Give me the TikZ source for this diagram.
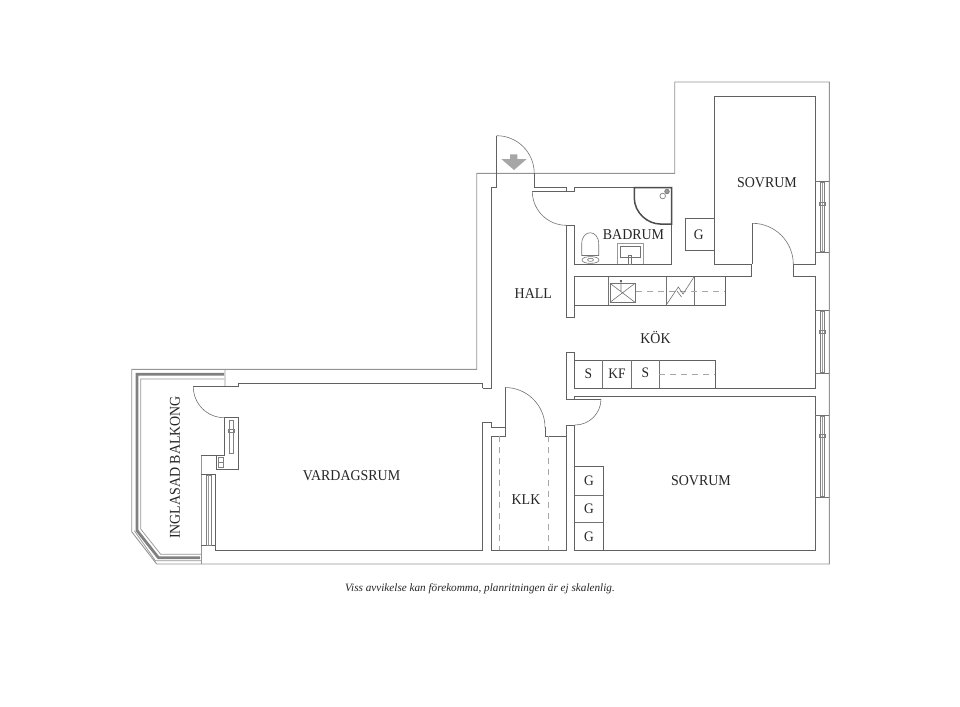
\documentclass[tikz,border=0pt]{standalone}
\usepackage{fontspec}
\setmainfont{Liberation Serif}
\newfontfamily\labelfont[FakeStretch=0.93]{Liberation Serif}
\tikzset{
  wall/.style={draw=black!62,line width=0.85pt,line join=miter},
  outer/.style={draw=black!42,line width=0.9pt,line join=miter},
  thin/.style={draw=black!55,line width=0.6pt},
  dashline/.style={draw=black!35,line width=0.6pt,dash pattern=on 6pt off 5pt},
  band/.style={draw=black!50,line width=2.8pt,line join=miter},
  room/.style={font=\labelfont\fontsize{15}{15}\selectfont,text=black!85,inner sep=0pt},
  letter/.style={font=\labelfont\fontsize{14.5}{15}\selectfont,text=black!85,inner sep=0pt},
  caption/.style={font=\fontsize{11.2}{12}\selectfont\itshape,text=black!85,inner sep=0pt},
}
\begin{document}
\begin{tikzpicture}[x=1pt,y=-1pt]
\useasboundingbox (0,0) rectangle (960,706);
\fill[white] (0,0) rectangle (960,706);
% outer outline
\draw[outer] (225,386.7) -- (225,369.3) -- (131.7,369.3) -- (131.7,531.7) -- (156.7,564) -- (829.3,564) -- (829.3,82) -- (674.7,82) -- (674.7,173.3) -- (476.7,173.3) -- (476.7,369.3) -- (225,369.3);
% balcony
\draw[band] (224,374.3) -- (137,374.3) -- (137,530.5) -- (158.5,557.8) -- (200,557.8);
\draw[outer,line width=0.7pt] (224.3,379) -- (140.7,379) -- (140.7,529) -- (160.7,554.3) -- (201,554.3);
\draw[outer,line width=0.7pt] (134.3,530.7) -- (155.5,560.8) -- (201,560.8);
\draw[outer] (201,455) -- (201,564);
% walls
\draw[wall] (482.7,388.3) -- (482.7,383.3) -- (238.3,383.3) -- (238.3,386.7) -- (193.3,386.7);
\draw[wall] (224.3,417.3) -- (224.3,455) -- (201,455);
\draw[wall] (224.3,417.3) -- (238.3,417.3) -- (238.3,469.3) -- (216.7,469.3) -- (216.7,455);
\draw[wall] (201,474) -- (215.7,474) -- (215.7,550) -- (482.7,550) -- (482.7,422.3) -- (491.3,422.3) -- (491.3,427.3) -- (505,427.3);
\draw[wall] (201,545) -- (215.7,545);
\draw[wall] (482.7,388.3) -- (491.3,388.3) -- (491.3,187.3) -- (496.7,187.3) -- (496.7,135.7);
\draw[wall] (534.3,173) -- (534.3,187.3) -- (566.7,187.3) -- (566.7,191.3) -- (574.7,191.3) -- (574.7,187.3) -- (671.7,187.3) -- (671.7,264) -- (574.7,264) -- (574.7,225.3) -- (566.7,225.3) -- (566.7,317.3) -- (574.7,317.3) -- (574.7,276.9) -- (751.7,276.9) -- (751.7,264) -- (714.3,264) -- (714.3,96) -- (815.3,96) -- (815.3,264) -- (793.3,264) -- (793.3,276.9) -- (815.3,276.9) -- (815.3,388.3) -- (574.7,388.3) -- (574.7,352.7) -- (566.7,352.7) -- (566.7,399) -- (601,399);
\draw[wall] (574.7,399) -- (574.7,396.7) -- (815.3,396.7) -- (815.3,550) -- (574.7,550) -- (574.7,425) -- (566.7,425) -- (566.7,436) -- (545,436) -- (545,427.3);
\draw[wall] (505,387.7) -- (505,436) -- (491.3,436) -- (491.3,550) -- (566.7,550) -- (566.7,436);
\draw[wall] (752.3,223.3) -- (752.3,264);
\draw[wall] (532.3,191.3) -- (566.7,191.3);
% door arcs
\draw[thin] (496.7,135.7) arc[start angle=-90,end angle=0,radius=37.5];
\draw[thin] (532.3,191.3) arc[start angle=180,end angle=90,radius=34];
\draw[thin] (752.3,223.3) arc[start angle=-90,end angle=0,radius=41];
\draw[thin] (505,387.5) arc[start angle=-90,end angle=0,radius=40];
\draw[thin] (601,399) arc[start angle=0,end angle=90,radius=26];
\draw[thin] (193.3,386.7) arc[start angle=180,end angle=90,radius=31];
% entry arrow
\fill[black!35] (510,154.3) -- (517.3,154.3) -- (517.3,159) -- (526.7,159) -- (514,170) -- (501.3,159) -- (510,159) -- cycle;
% shower
\draw[draw=black!70,line width=1.5pt] (634.3,187.5) -- (634.3,198) .. controls (634.3,213) and (648,224) .. (660,224) -- (671.5,224) -- (671.5,187.5) -- cycle;
\draw[thin,fill=black!40] (667,191.5) circle[radius=2.3];
\draw[thin,fill=white] (662.7,196) circle[radius=2.8];
% toilet
\draw[thin] (581.7,255.5) -- (581.7,244) .. controls (581.7,229) and (598.7,229) .. (598.7,244) -- (598.7,255.5) -- cycle;
\draw[thin] (582,260) .. controls (582,255.5) and (599,255.5) .. (599,260) .. controls (599,264.5) and (582,264.5) .. (582,260) -- cycle;
\draw[thin] (590.5,259.8) ellipse[x radius=3,y radius=1.6];
% basin
\draw[draw=black!40,line width=0.6pt] (617.3,264) -- (617.3,243.3) -- (643.3,243.3) -- (643.3,264);
\draw[thin] (620,246.7) rectangle (640.7,257.3);
\draw[thin] (628.7,255) rectangle (631.3,263.8);
% upper counter
\draw[wall] (574.7,305.3) -- (725,305.3) -- (725,276.9);
\draw[thin] (608,276.9) -- (608,305.3);
\draw[thin] (666,276.9) -- (666,305.3);
\draw[thin] (694.3,276.9) -- (694.3,305.3);
\draw[thin] (610,283.3) rectangle (635,302.3);
\draw[thin] (610,283.3) -- (635,302.3) (635,283.3) -- (610,302.3) (621,280.5) -- (621,292);
\draw[draw=black!60,line width=1.5pt] (619.6,281) -- (622.4,281);
\draw[dashline] (636,291) -- (725,291);
\draw[thin] (666,305.3) -- (678.3,287) -- (683,294) -- (694,277) (677,291) -- (681.5,297) ;
% lower counter
\draw[wall] (574.7,360) -- (715.7,360) -- (715.7,388.3);
\draw[thin] (602.7,360) -- (602.7,388.3);
\draw[thin] (631,360) -- (631,388.3);
\draw[thin] (659.3,360) -- (659.3,388.3);
\draw[dashline] (659.3,374) -- (715,374);
% G boxes
\draw[wall] (574.7,466.7) -- (603.3,466.7) -- (603.3,550);
\draw[thin] (574.7,495) -- (603.3,495);
\draw[thin] (574.7,522.7) -- (603.3,522.7);
\draw[wall] (714.3,218.7) -- (685,218.7) -- (685,250.7) -- (714.3,250.7);
% KLK dashes
\draw[dashline] (499.3,436) -- (499.3,550);
\draw[dashline] (548.7,436) -- (548.7,550);
% windows
\foreach \a/\b/\m in {181.7/252.7/203.3,310/373.3/331.7,415/497.3/436}{
  \draw[thin] (815.3,\a) -- (829.3,\a) (815.3,\b) -- (829.3,\b);
  \draw[thin,draw=black!50] (820,\a+1) rectangle (824.7,\b-1);
  \draw[thin,draw=black!40] (822.3,\a+1) -- (822.3,\b-1);
  \draw[thin,draw=black!50] (819,\m-1.5) rectangle (825.7,\m+1.5);
}
\draw[thin,draw=black!50] (206,475) rectangle (211,545);
\draw[thin,draw=black!40] (208.5,475) -- (208.5,545);
\draw[thin,draw=black!50] (229.3,420) rectangle (233.3,453.3);
\draw[thin,draw=black!50] (228.3,429) rectangle (234.3,432);
\draw[thin,draw=black!50] (218.5,457) rectangle (223,467.5);
\draw[thin,draw=black!50] (218.5,462) -- (223,462);
% labels
\node[room] (sov1) at (767,183) {SOVRUM};
\node[room] (bad) at (633.5,235) {BADRUM};
\node[room] (hall) at (533.3,294) {HALL};
\node[room] (kok) at (655.5,337) {KÖK};
\node[room] (klk) at (526,499.5) {KLK};
\node[room] (sov2) at (701,481) {SOVRUM};
\node[room] (var) at (351.5,476) {VARDAGSRUM};
\node[room,rotate=90] (bal) at (175,467.5) {INGLASAD BALKONG};
\node[letter] (g0) at (698.7,234.7) {G};
\node[letter] (g1) at (589,481) {G};
\node[letter] (g2) at (589,508.5) {G};
\node[letter] (g3) at (589,537) {G};
\node[letter] (s1) at (588.3,373.5) {S};
\node[letter] (kf) at (617,373.5) {KF};
\node[letter] (s2) at (645.3,373) {S};
\node[caption] (cap) at (480,588.5) {Viss avvikelse kan förekomma, planritningen är ej skalenlig.};
\end{tikzpicture}
\end{document}
